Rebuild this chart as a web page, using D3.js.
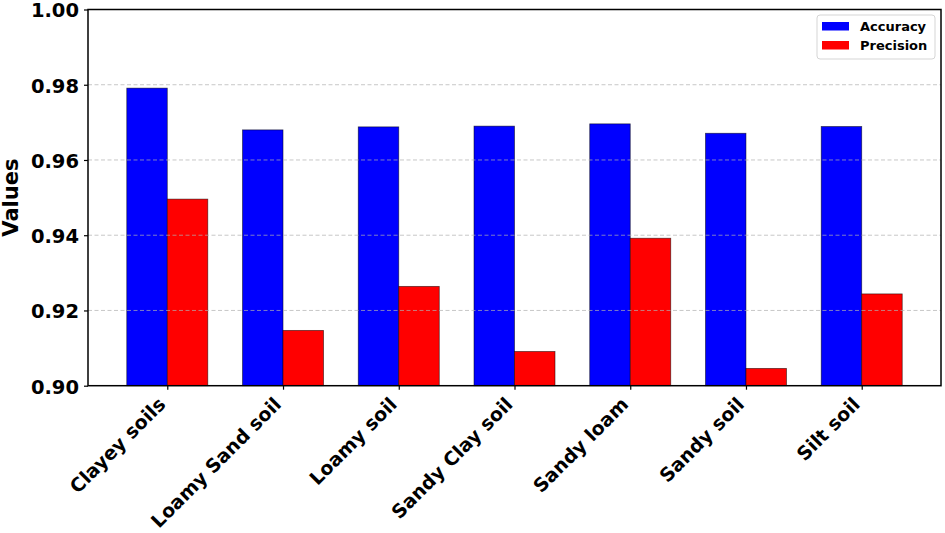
<!DOCTYPE html>
<html><head><meta charset="utf-8">
<script src="https://cdn.jsdelivr.net/npm/d3@7"></script>
<style>body{margin:0;background:#fff}svg{display:block}text{font-family:"DejaVu Sans",sans-serif;font-weight:bold}</style>
</head><body>
<script>
const categories = ["Clayey soils","Loamy Sand soil","Loamy soil","Sandy Clay soil","Sandy loam","Sandy soil","Silt soil"];
const accuracy  = [0.9791,0.9680,0.9688,0.9690,0.9696,0.9671,0.9689];
const precision = [0.9496,0.9147,0.9264,0.9091,0.9392,0.9046,0.9244];
const seriesNames = ["Accuracy","Precision"];
const seriesColors = ["#0000ff","#ff0000"];
const yTicks = [0.90,0.92,0.94,0.96,0.98,1.00];

const W=945,H=533;
const m={l:88,r:4,t:9.5,b:147.3};
const svg=d3.select("body").append("svg").attr("width",W).attr("height",H);
const iw=W-m.l-m.r, ih=H-m.t-m.b;
const g=svg.append("g").attr("transform",`translate(${m.l},${m.t})`);

const n=categories.length, bw=0.35;
const x=d3.scaleLinear().domain([-0.685,n-1+0.685]).range([0,iw]);
const y=d3.scaleLinear().domain([0.90,1.00]).range([ih,0]);

const series=[accuracy,precision];
series.forEach((vals,si)=>{
  g.selectAll(null).data(vals).enter().append("rect")
    .attr("x",(d,i)=>x(i+(si===0?-bw:0)))
    .attr("width",x(bw)-x(0))
    .attr("y",d=>y(d))
    .attr("height",d=>ih-y(d))
    .attr("fill",seriesColors[si])
    .attr("stroke","#000").attr("stroke-width",0.8).attr("stroke-opacity",0.6);
});

// grid on top
g.selectAll(null).data(yTicks.filter(t=>t>0.901&&t<0.999)).enter().append("line")
  .attr("x1",0).attr("x2",iw).attr("y1",d=>y(d)).attr("y2",d=>y(d))
  .attr("stroke","#b0b0b0").attr("stroke-opacity",0.7).attr("stroke-width",1)
  .attr("stroke-dasharray","4,2.5");

// axes
const ya=g.append("g").call(d3.axisLeft(y).tickValues(yTicks).tickFormat(d3.format(".2f")).tickSize(4).tickPadding(5));
ya.selectAll("text").attr("font-size",19.5).attr("fill","#000").attr("font-family","DejaVu Sans").attr("font-weight","bold").attr("dy","0.38em");
ya.select(".domain").remove();
const xa=g.append("g").attr("transform",`translate(0,${ih})`)
  .call(d3.axisBottom(x).tickValues(d3.range(n)).tickFormat(i=>categories[i]).tickSize(4));
xa.select(".domain").remove();
xa.selectAll("text").attr("font-size",19).attr("fill","#000").attr("font-family","DejaVu Sans").attr("font-weight","bold")
  .attr("text-anchor","end").attr("dy",null).attr("y",0)
  .attr("transform","translate(-5,16) rotate(-45)")
  .attr("dominant-baseline","middle");
g.selectAll(".tick line").attr("stroke","#000").attr("stroke-width",1.2);

g.append("rect").attr("x",0).attr("y",0).attr("width",iw).attr("height",ih)
  .attr("fill","none").attr("stroke","#000").attr("stroke-width",1.5);

// y label
svg.append("text").attr("transform",`translate(18,${m.t+ih/2}) rotate(-90)`)
  .attr("text-anchor","middle").attr("font-size",21).text("Values");

// legend
const lg=svg.append("g").attr("transform","translate(817,15)");
lg.append("rect").attr("width",118).attr("height",44).attr("rx",3)
  .attr("fill","#fff").attr("fill-opacity",0.8).attr("stroke","#d5d5d5").attr("stroke-width",1);
seriesNames.forEach((s,i)=>{
  const r=lg.append("g").attr("transform",`translate(0,${11+i*19})`);
  r.append("rect").attr("x",5).attr("y",-4).attr("width",27).attr("height",8.5).attr("fill",seriesColors[i]);
  r.append("text").attr("x",43).attr("y",0).attr("dominant-baseline","central").attr("font-size",13).text(s);
});
</script>
</body></html>
